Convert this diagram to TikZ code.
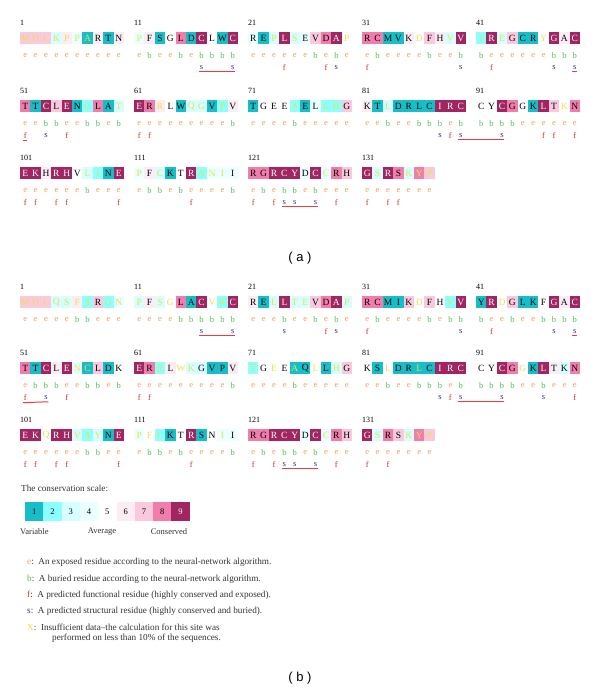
\documentclass[tikz,border=0pt]{standalone}
\usepackage{fontspec}
\setmainfont{Liberation Serif}
\newfontfamily\labelsans{Liberation Sans}
\usetikzlibrary{positioning}
% conservation grades
\definecolor{cs1}{HTML}{17BEC8}
\definecolor{cs2}{HTML}{8CFFFF}
\definecolor{cs3}{HTML}{D7FFFF}
\definecolor{cs4}{HTML}{EAFFFF}
\definecolor{cs5}{HTML}{FFFFFF}
\definecolor{cs6}{HTML}{FCEDF4}
\definecolor{cs7}{HTML}{FAC9DE}
\definecolor{cs8}{HTML}{F07DAB}
\definecolor{cs9}{HTML}{A02560}
\definecolor{csIns}{HTML}{E6E24A}
\definecolor{ebe}{HTML}{F4A04E}
\definecolor{ebb}{HTML}{4CC44C}
\definecolor{fsf}{HTML}{E0302E}
\definecolor{fss}{HTML}{2E3198}
\definecolor{ulRed}{HTML}{EE3B3F}
\definecolor{legText}{HTML}{333333}
% letter colours: tx<insufficient><grade>
\colorlet{txy1}{csIns}\colorlet{txy2}{csIns}\colorlet{txy3}{csIns}
\colorlet{txy4}{csIns}\colorlet{txy5}{csIns}\colorlet{txy6}{csIns}
\colorlet{txy7}{csIns}\colorlet{txy8}{csIns}\colorlet{txy9}{csIns}
\colorlet{txn1}{black}\colorlet{txn2}{black}\colorlet{txn3}{black}
\colorlet{txn4}{black}\colorlet{txn5}{black}\colorlet{txn6}{black}
\colorlet{txn7}{black}\colorlet{txn8}{black}\colorlet{txn9}{white}
\tikzset{
  resbox/.style={inner sep=0pt, minimum width=10.4pt, minimum height=12pt,
    font=\fontsize{9.5}{10}\selectfont},
  numlbl/.style={anchor=west, inner sep=0pt, font=\fontsize{8}{9}\selectfont},
  ebmark/.style={inner sep=0.5pt, font=\fontsize{8.5}{9}\selectfont},
  fsmark/.style={inner sep=0.5pt, font=\fontsize{8.5}{9}\selectfont},
  ulline/.style={draw=ulRed, color=ulRed, line width=1pt},
  scalebox/.style={inner sep=0pt, minimum width=18.3pt, minimum height=19pt,
    font=\fontsize{8.5}{9}\selectfont},
  scalelbl/.style={inner sep=0pt, text=legText, font=\fontsize{8.5}{9}\selectfont},
  legline/.style={anchor=west, inner sep=0pt, text=legText, font=\fontsize{9.2}{10}\selectfont},
  panellbl/.style={inner sep=0pt, font=\labelsans\fontsize{13}{15}\selectfont}
}
% #1 panel, #2 x, #3 y, #4 first residue, #5 residues, #6 marks
\newcommand{\seqblock}[6]{%
  \node[numlbl] (#1n#4) at (#2,#3-15) {#4};
  \foreach \aa/\g/\ins/\eb [count=\k from 0] in {#5}{
    \pgfmathtruncatemacro{\rn}{#4+\k}
    \node[resbox, fill=cs\g, text=tx\ins\g] (#1r\rn) at ({#2+(\k+0.5)*10.4},#3) {\aa};
    \node[ebmark, text=eb\eb] (#1e\rn) at ({#2+(\k+0.5)*10.4},#3+18) {\eb};
  }
  \foreach \m/\mk in {#6}{
    \pgfmathtruncatemacro{\rn}{#4+\m-1}
    \node[fsmark, text=fs\mk] (#1m\rn) at ({#2+(\m-0.5)*10.4},#3+30) {\mk};
  }
}

\begin{document}
\begin{tikzpicture}[x=1pt, y=-1pt]
  \path[use as bounding box, fill=white] (0,0) rectangle (600,694);

  % ---- panel (a) ----
  \seqblock{a}{20}{38}{1}{M/7/y/e,D/7/y/e,L/7/y/e,K/3/y/e,P/6/y/e,P/4/y/e,A/1/y/e,R/6/n/e,T/1/n/e,N/6/n/e}{}
  \seqblock{a}{134}{38}{11}{P/4/y/e,F/6/n/b,S/1/n/e,G/5/n/e,L/8/n/b,D/1/n/e,C/9/n/b,L/5/n/b,W/1/n/b,C/9/n/b}{7/s,10/s}
  \seqblock{a}{248}{38}{21}{R/4/n/e,E/1/n/e,P/3/y/e,L/9/n/e,S/3/y/e,E/4/n/e,V/7/n/b,D/8/n/e,A/9/n/b,P/5/y/e}{4/f,8/f,9/s}
  \seqblock{a}{362}{38}{31}{R/8/n/e,C/8/n/b,M/1/n/e,V/1/n/e,K/6/n/e,D/5/y/e,F/7/n/b,H/6/n/e,V/3/y/e,V/9/n/b}{1/f,10/s}
  \seqblock{a}{476}{38}{41}{I/2/y/b,R/9/n/e,E/3/y/e,G/7/n/e,C/1/n/e,R/1/n/e,Y/5/y/e,G/9/n/b,A/6/n/b,C/9/n/b}{2/f,8/s,10/s}

  \seqblock{a}{20}{106}{51}{T/8/n/e,T/1/n/e,C/9/n/b,L/7/n/b,E/9/n/e,N/1/n/e,C/2/y/b,L/8/n/b,A/1/n/e,T/3/y/b}{1/f,3/s,5/f}
  \seqblock{a}{134}{106}{61}{E/9/n/e,R/8/n/e,R/6/y/e,L/5/n/e,W/1/n/e,Q/3/y/e,G/3/y/e,V/1/n/e,P/2/y/e,V/6/n/b}{1/f,2/f}
  \seqblock{a}{248}{106}{71}{T/1/n/e,G/5/n/e,E/5/n/e,E/5/n/e,A/2/y/b,E/1/n/e,L/4/n/e,L/2/y/e,H/2/y/e,G/7/n/e}{}
  \seqblock{a}{362}{106}{81}{K/6/n/e,T/1/n/e,L/3/y/b,D/1/n/e,R/1/n/e,L/1/n/b,C/1/n/b,I/9/n/b,R/9/n/e,C/9/n/b}{8/s,9/f,10/s}
  \seqblock{a}{476}{106}{91}{C/5/n/b,Y/5/n/b,C/9/n/b,G/8/n/b,G/5/n/e,K/1/n/e,L/9/n/e,T/7/n/e,K/5/y/e,N/8/n/e}{3/s,7/f,8/f,10/f}

  \seqblock{a}{20}{173}{101}{E/9/n/e,K/9/n/e,H/6/n/e,R/9/n/e,H/9/n/e,V/5/n/e,L/3/y/b,I/2/y/e,N/1/n/e,E/9/n/e}{1/f,2/f,4/f,5/f,10/f}
  \seqblock{a}{134}{173}{111}{P/4/y/e,F/6/n/b,C/3/y/b,K/1/n/e,T/5/n/b,R/9/n/e,A/2/y/e,N/4/y/e,I/4/y/e,I/4/n/b}{6/f}
  \seqblock{a}{248}{173}{121}{R/8/n/e,G/8/n/b,R/9/n/e,C/9/n/b,Y/9/n/b,D/4/n/e,C/9/n/b,C/4/y/e,R/8/n/e,H/7/n/e}{1/f,3/f,4/s,5/s,7/s,9/f}
  \seqblock{a}{362}{173}{131}{G/9/n/e,S/3/y/e,R/9/n/e,S/8/n/e,K/3/y/e,Y/8/y/e,P/7/y/e}{1/f,3/f,4/f}

  \draw[ulline] ([yshift=-1pt]am17.south west) -- ([yshift=-1pt]am20.south east);
  \draw[ulline] ([yshift=-1pt]am50.south west) -- ([yshift=-1pt]am50.south east);
  \draw[ulline] ([yshift=-1pt]am51.south west) -- ([yshift=-1pt]am51.south east);
  \draw[ulline] ([yshift=-1pt]am90.south west) -- ([yshift=-1pt]am93.south east);
  \draw[ulline] ([yshift=-1pt]am124.south west) -- ([yshift=-1pt]am127.south east);

  \node[panellbl] (lbla) at (300,258) {( a )};

  % ---- panel (b) ----
  \seqblock{b}{20}{302}{1}{M/7/y/e,D/7/y/e,L/7/y/e,Q/3/y/e,S/3/y/e,F/6/y/b,S/2/y/b,R/7/n/e,G/2/y/e,N/4/y/e}{}
  \seqblock{b}{134}{302}{11}{P/3/y/e,F/6/n/e,S/3/y/e,G/5/y/e,L/8/n/b,A/1/n/b,C/9/n/b,V/5/y/b,W/2/y/b,C/9/n/b}{7/s,10/s}
  \seqblock{b}{248}{302}{21}{R/6/n/e,E/1/n/e,L/3/y/e,L/9/n/b,T/3/y/e,E/3/y/e,V/7/n/b,D/8/n/e,A/9/n/b,P/3/y/e}{4/s,8/f,9/s}
  \seqblock{b}{362}{302}{31}{R/8/n/e,C/8/n/b,M/1/n/e,I/1/n/e,K/7/n/e,D/5/y/e,F/7/n/b,H/5/n/e,V/2/y/b,V/9/n/b}{1/f,10/s}
  \seqblock{b}{476}{302}{41}{Y/1/n/b,R/9/n/e,D/5/y/e,G/7/n/b,L/1/n/e,K/1/n/e,F/5/n/b,G/9/n/b,A/6/n/b,C/9/n/b}{2/f,8/s,10/s}

  \seqblock{b}{20}{368}{51}{T/8/n/e,T/1/n/b,C/9/n/b,L/6/n/b,E/9/n/e,N/4/y/e,C/1/y/b,L/7/n/b,D/1/n/e,K/5/n/b}{1/f,3/s,5/f}
  \seqblock{b}{134}{368}{61}{E/9/n/e,R/8/n/e,R/2/y/e,L/6/n/e,W/5/y/e,K/3/y/e,G/3/n/e,V/1/n/e,P/1/n/e,V/6/n/b}{1/f,2/f}
  \seqblock{b}{248}{368}{71}{T/2/y/e,G/5/n/e,E/5/y/e,E/5/n/e,A/1/y/b,Q/1/n/e,L/5/y/e,L/1/n/e,H/3/y/e,G/7/n/e}{}
  \seqblock{b}{362}{368}{81}{K/5/n/e,S/1/n/e,L/5/y/b,D/1/n/e,R/1/n/e,L/1/y/b,C/1/n/b,I/9/n/b,R/9/n/e,C/9/n/b}{8/s,9/f,10/s}
  \seqblock{b}{476}{368}{91}{C/5/n/b,Y/5/n/b,C/9/n/b,G/8/n/b,G/5/y/e,K/1/n/e,L/9/n/b,T/6/n/e,K/3/n/e,N/8/n/e}{3/s,7/s,10/f}

  \seqblock{b}{20}{435}{101}{E/9/n/e,K/9/n/e,Q/5/y/e,R/9/n/e,H/9/n/e,V/3/y/e,A/2/y/b,Y/3/y/b,N/1/n/e,E/9/n/e}{1/f,2/f,4/f,5/f,10/f}
  \seqblock{b}{134}{435}{111}{P/4/y/e,F/5/y/b,C/2/y/b,K/1/n/e,T/5/n/b,R/9/n/e,S/1/n/e,N/5/n/e,I/4/y/e,I/4/n/b}{6/f}
  \seqblock{b}{248}{435}{121}{R/8/n/e,G/8/n/b,R/9/n/e,C/9/n/b,Y/9/n/b,D/4/n/e,C/9/n/b,C/4/y/e,R/8/n/e,H/7/n/e}{1/f,3/f,4/s,5/s,7/s,9/f}
  \seqblock{b}{362}{435}{131}{G/9/n/e,S/3/y/e,R/8/n/e,S/7/n/e,K/3/y/e,Y/8/y/e,P/7/y/e}{1/f,3/f}

  \draw[ulline] ([yshift=-1pt]bm17.south west) -- ([yshift=-1pt]bm20.south east);
  \draw[ulline] ([yshift=-1pt]bm50.south west) -- ([yshift=-1pt]bm50.south east);
  \draw[ulline] ([yshift=-1pt]bm51.south west) -- ([yshift=-1pt]bm53.south east);
  \draw[ulline] ([yshift=-1pt]bm90.south west) -- ([yshift=-1pt]bm93.south east);
  \draw[ulline] ([yshift=-1pt]bm124.south west) -- ([yshift=-1pt]bm127.south east);

  % legend
  \node[legline] (scaletitle) at (21,488) {The conservation scale:};
  \foreach \g in {1,...,9}
    \node[scalebox, fill=cs\g, text=txn\g] (sc\g) at ({25+(\g-0.5)*18.3},511.5) {\g};
  \node[scalelbl, anchor=west] (variable) at (20,532) {Variable};
  \node[scalelbl] (average) at (102,532) {Average};
  \node[scalelbl] (conserved) at (169,532) {Conserved};

  \node[legline] (lege) at (27,562) {\textcolor{ebe}{e}:\enspace An exposed residue according to the neural-network algorithm.};
  \node[legline] (legb) at (27,579) {\textcolor{ebb}{b}:\enspace A buried residue according to the neural-network algorithm.};
  \node[legline] (legf) at (27,595) {\textcolor{fsf}{f}:\enspace A predicted functional residue (highly conserved and exposed).};
  \node[legline] (legs) at (27,611) {\textcolor{fss}{s}:\enspace A predicted structural residue (highly conserved and buried).};
  \node[legline] (legx) at (27,627) {\textcolor{csIns}{X}:\enspace Insufficient data--the calculation for this site was};
  \node[legline] (legx2) at (52,638) {performed on less than 10\% of the sequences.};

  \node[panellbl] (lblb) at (300,678) {( b )};
\end{tikzpicture}
\end{document}
